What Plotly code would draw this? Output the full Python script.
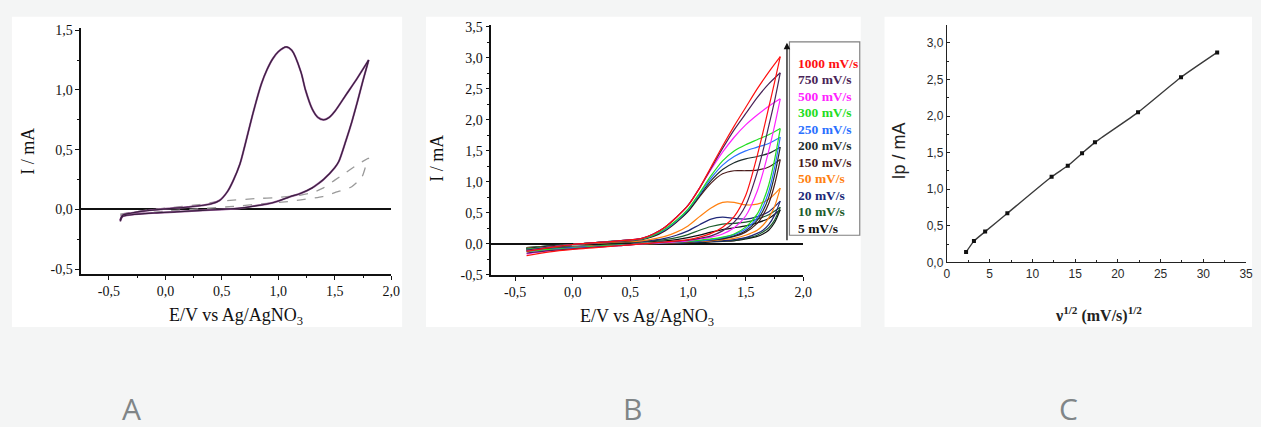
import plotly.graph_objects as go

W, H = 1261, 427
def px(x):
    return x / W
def py(y):
    return 1 - y / H

SERIF = "Liberation Serif"
SANS = "Liberation Sans"
BG = "#f4f5f5"

# ---------------- Panel A data ----------------
A_fwd_E = [-0.40, -0.38, -0.30, -0.20, 0.00, 0.20, 0.40, 0.48, 0.55, 0.60, 0.66, 0.70, 0.78, 0.85, 0.90,
           0.95, 1.00, 1.07, 1.12, 1.20, 1.24, 1.30, 1.35, 1.40, 1.45, 1.50, 1.60, 1.70, 1.80]
A_fwd_I = [-0.09, -0.05, -0.03, -0.015, 0.005, 0.02, 0.045, 0.075, 0.15, 0.24, 0.38, 0.52, 0.82, 1.05, 1.17,
           1.26, 1.32, 1.36, 1.33, 1.15, 1.00, 0.84, 0.77, 0.75, 0.77, 0.82, 0.96, 1.10, 1.25]
A_rev_E = [1.80, 1.75, 1.70, 1.65, 1.60, 1.535, 1.50, 1.40, 1.36, 1.30, 1.20, 1.10, 1.00, 0.90, 0.80,
           0.66, 0.50, 0.30, 0.10, -0.10, -0.30, -0.38, -0.40]
A_rev_I = [1.25, 1.08, 0.90, 0.73, 0.58, 0.40, 0.35, 0.25, 0.22, 0.18, 0.135, 0.105, 0.07, 0.045, 0.03,
           0.01, 0.0, -0.01, -0.02, -0.03, -0.045, -0.06, -0.10]
A_blank_up_E = [-0.40, -0.20, 0.00, 0.30, 0.50, 0.80, 1.00, 1.20, 1.30, 1.40, 1.50, 1.60, 1.70, 1.80]
A_blank_up_I = [-0.04, -0.01, 0.01, 0.04, 0.07, 0.09, 0.10, 0.12, 0.14, 0.18, 0.245, 0.31, 0.375, 0.43]
A_blank_dn_E = [1.80, 1.77, 1.74, 1.65, 1.50, 1.39, 1.20, 1.10, 0.90, 0.60, 0.30, 0.00, -0.40]
A_blank_dn_I = [0.43, 0.35, 0.27, 0.19, 0.14, 0.107, 0.08, 0.067, 0.05, 0.025, 0.005, -0.015, -0.05]

# ---------------- Panel B data ----------------
B_rates = ["1000 mV/s", "750 mV/s", "500 mV/s", "300 mV/s", "250 mV/s", "200 mV/s",
           "150 mV/s", "50 mV/s", "20 mV/s", "10 mV/s", "5 mV/s"]
B_colors = ["#ff1010", "#4a2458", "#ff22ff", "#22dd22", "#2a70ff", "#1e2e2e",
            "#4a1c1c", "#ff8010", "#202878", "#1c5c2c", "#101010"]
B_E_fwd = [-0.4, -0.2, 0.0, 0.2, 0.4, 0.6, 0.7, 0.8, 0.9, 1.0, 1.1, 1.2, 1.3, 1.4, 1.5, 1.6, 1.7, 1.8]
B_E_rev = [1.8, 1.75, 1.7, 1.65, 1.6, 1.5, 1.4, 1.3, 1.2, 1.1, 1.0, 0.8, 0.6, 0.4, 0.2, 0.0, -0.2, -0.4]
B_I_fwd_1000 = [-0.12, -0.06, -0.01, 0.02, 0.05, 0.09, 0.16, 0.27, 0.43, 0.62, 0.90, 1.24, 1.58, 1.90, 2.20, 2.50, 2.77, 3.02]
B_I_fwd_750 = [-0.10, -0.05, -0.01, 0.02, 0.05, 0.09, 0.16, 0.27, 0.43, 0.62, 0.90, 1.22, 1.54, 1.84, 2.10, 2.36, 2.58, 2.76]
B_I_fwd_500 = [-0.11, -0.05, -0.01, 0.02, 0.05, 0.09, 0.16, 0.27, 0.43, 0.62, 0.90, 1.20, 1.48, 1.72, 1.92, 2.08, 2.22, 2.34]
B_I_fwd_300 = [-0.09, -0.05, -0.01, 0.02, 0.05, 0.08, 0.14, 0.24, 0.38, 0.56, 0.82, 1.10, 1.34, 1.50, 1.60, 1.68, 1.76, 1.86]
B_I_fwd_250 = [-0.09, -0.05, -0.01, 0.02, 0.05, 0.08, 0.14, 0.23, 0.37, 0.55, 0.80, 1.06, 1.27, 1.41, 1.50, 1.56, 1.62, 1.72]
B_I_fwd_200 = [-0.08, -0.04, -0.01, 0.02, 0.05, 0.08, 0.13, 0.22, 0.36, 0.53, 0.78, 1.02, 1.20, 1.31, 1.37, 1.41, 1.46, 1.56]
B_I_fwd_150 = [-0.08, -0.04, -0.01, 0.02, 0.04, 0.07, 0.12, 0.21, 0.35, 0.52, 0.76, 0.98, 1.13, 1.18, 1.18, 1.19, 1.24, 1.36]
B_I_fwd_50 = [-0.07, -0.04, -0.01, 0.01, 0.03, 0.05, 0.08, 0.12, 0.19, 0.29, 0.44, 0.58, 0.67, 0.67, 0.63, 0.64, 0.72, 0.90]
B_I_fwd_20 = [-0.07, -0.04, -0.01, 0.01, 0.03, 0.04, 0.06, 0.09, 0.14, 0.21, 0.31, 0.40, 0.43, 0.41, 0.40, 0.44, 0.52, 0.69]
B_I_fwd_10 = [-0.06, -0.03, -0.01, 0.01, 0.02, 0.03, 0.05, 0.07, 0.10, 0.15, 0.22, 0.28, 0.32, 0.33, 0.35, 0.40, 0.47, 0.59]
B_I_fwd_5 = [-0.06, -0.03, -0.01, 0.01, 0.02, 0.03, 0.04, 0.05, 0.07, 0.10, 0.14, 0.19, 0.23, 0.26, 0.29, 0.34, 0.41, 0.55]
B_I_rev_1000 = [3.02, 2.60, 2.20, 1.80, 1.42, 0.78, 0.44, 0.27, 0.17, 0.11, 0.07, 0.03, 0.0, -0.03, -0.06, -0.09, -0.13, -0.19]
B_I_rev_750 = [2.76, 2.30, 1.90, 1.50, 1.15, 0.62, 0.35, 0.21, 0.13, 0.09, 0.06, 0.03, 0.0, -0.03, -0.05, -0.08, -0.11, -0.15]
B_I_rev_500 = [2.34, 1.90, 1.50, 1.15, 0.85, 0.45, 0.26, 0.16, 0.11, 0.08, 0.05, 0.02, 0.0, -0.03, -0.05, -0.08, -0.11, -0.16]
B_I_rev_300 = [1.86, 1.35, 0.95, 0.68, 0.48, 0.27, 0.16, 0.11, 0.08, 0.06, 0.04, 0.02, 0.0, -0.02, -0.04, -0.07, -0.09, -0.12]
B_I_rev_250 = [1.72, 1.22, 0.84, 0.60, 0.42, 0.24, 0.15, 0.10, 0.07, 0.05, 0.04, 0.02, 0.0, -0.02, -0.04, -0.06, -0.09, -0.12]
B_I_rev_200 = [1.56, 1.10, 0.75, 0.53, 0.38, 0.21, 0.13, 0.09, 0.07, 0.05, 0.04, 0.02, 0.0, -0.02, -0.04, -0.06, -0.08, -0.11]
B_I_rev_150 = [1.36, 0.95, 0.65, 0.46, 0.33, 0.19, 0.12, 0.08, 0.06, 0.05, 0.03, 0.01, 0.0, -0.02, -0.04, -0.06, -0.08, -0.11]
B_I_rev_50 = [0.90, 0.60, 0.42, 0.30, 0.22, 0.14, 0.09, 0.07, 0.05, 0.04, 0.03, 0.01, 0.0, -0.02, -0.03, -0.05, -0.07, -0.10]
B_I_rev_20 = [0.69, 0.46, 0.31, 0.22, 0.17, 0.10, 0.07, 0.05, 0.04, 0.03, 0.02, 0.01, 0.0, -0.02, -0.03, -0.05, -0.07, -0.09]
B_I_rev_10 = [0.59, 0.38, 0.26, 0.19, 0.14, 0.09, 0.06, 0.05, 0.04, 0.03, 0.02, 0.01, 0.0, -0.01, -0.03, -0.04, -0.06, -0.08]
B_I_rev_5 = [0.55, 0.34, 0.22, 0.16, 0.12, 0.08, 0.05, 0.04, 0.03, 0.02, 0.02, 0.01, 0.0, -0.01, -0.03, -0.04, -0.06, -0.08]
B_I_fwd = [B_I_fwd_1000, B_I_fwd_750, B_I_fwd_500, B_I_fwd_300, B_I_fwd_250, B_I_fwd_200,
           B_I_fwd_150, B_I_fwd_50, B_I_fwd_20, B_I_fwd_10, B_I_fwd_5]
B_I_rev = [B_I_rev_1000, B_I_rev_750, B_I_rev_500, B_I_rev_300, B_I_rev_250, B_I_rev_200,
           B_I_rev_150, B_I_rev_50, B_I_rev_20, B_I_rev_10, B_I_rev_5]

# ---------------- Panel C data ----------------
C_sqrt_v = [2.24, 3.16, 4.47, 7.07, 12.25, 14.14, 15.81, 17.32, 22.36, 27.39, 31.62]
C_Ip = [0.14, 0.29, 0.42, 0.67, 1.17, 1.32, 1.49, 1.64, 2.05, 2.53, 2.87]

# tick labels
AB_x_ticks = [-0.5, 0.0, 0.5, 1.0, 1.5, 2.0]
AB_x_text = ["-0,5", "0,0", "0,5", "1,0", "1,5", "2,0"]
A_y_ticks = [-0.5, 0.0, 0.5, 1.0, 1.5]
A_y_text = ["-0,5", "0,0", "0,5", "1,0", "1,5"]
B_y_ticks = [-0.5, 0.0, 0.5, 1.0, 1.5, 2.0, 2.5, 3.0, 3.5]
B_y_text = ["-0,5", "0,0", "0,5", "1,0", "1,5", "2,0", "2,5", "3,0", "3,5"]
C_y_ticks = [0.0, 0.5, 1.0, 1.5, 2.0, 2.5, 3.0]
C_y_text = ["0,0", "0,5", "1,0", "1,5", "2,0", "2,5", "3,0"]
C_x_ticks = [0, 5, 10, 15, 20, 25, 30, 35]

fig = go.Figure()

# Panel A traces
fig.add_trace(go.Scatter(x=A_blank_up_E + A_blank_dn_E, y=A_blank_up_I + A_blank_dn_I, mode="lines",
                         line=dict(color="#9a9a9a", width=1.3, dash="dash", shape="spline", smoothing=0.6),
                         xaxis="x", yaxis="y", showlegend=False))
for col, w in (("#9a5a9a", 2.0), ("#3a2040", 1.2)):
    fig.add_trace(go.Scatter(x=A_fwd_E, y=A_fwd_I, mode="lines",
                             line=dict(color=col, width=w, shape="spline", smoothing=0.8),
                             xaxis="x", yaxis="y", showlegend=False))
    fig.add_trace(go.Scatter(x=A_rev_E, y=A_rev_I, mode="lines",
                             line=dict(color=col, width=w, shape="spline", smoothing=0.8),
                             xaxis="x", yaxis="y", showlegend=False))

# Panel B traces (draw small ones first)
for i in reversed(range(len(B_rates))):
    fig.add_trace(go.Scatter(x=B_E_fwd, y=B_I_fwd[i], mode="lines",
                             line=dict(color=B_colors[i], width=1.2, shape="spline", smoothing=0.8),
                             xaxis="x2", yaxis="y2", showlegend=False))
    fig.add_trace(go.Scatter(x=B_E_rev, y=B_I_rev[i], mode="lines",
                             line=dict(color=B_colors[i], width=1.2, shape="spline", smoothing=0.8),
                             xaxis="x2", yaxis="y2", showlegend=False))

# Panel C
fig.add_trace(go.Scatter(x=C_sqrt_v, y=C_Ip, mode="lines+markers",
                         line=dict(color="#3a3a3a", width=1.4, shape="spline", smoothing=0.5),
                         marker=dict(symbol="square", size=4, color="#111111"),
                         xaxis="x3", yaxis="y3", showlegend=False))

ab_axis = dict(showline=True, linecolor="#111111", linewidth=1.5, ticks="outside", ticklen=4,
               tickwidth=1.2, tickcolor="#111111", showgrid=False,
               tickfont=dict(family=SERIF, size=14, color="#111111"))
minor_ab = dict(ticks="outside", ticklen=2.5, tickwidth=1, tickcolor="#111111", showgrid=False)

fig.update_layout(
    width=W, height=H, margin=dict(l=0, r=0, t=0, b=0),
    paper_bgcolor=BG, plot_bgcolor="rgba(0,0,0,0)",
    xaxis=dict(domain=[px(79), px(392)], range=[-0.745, 2.0], anchor="y", tickvals=AB_x_ticks,
               ticktext=AB_x_text, zeroline=False, minor=dict(dtick=0.25, **minor_ab), **ab_axis),
    yaxis=dict(domain=[py(277), py(23)], range=[-0.54, 1.516], anchor="x", tickvals=A_y_ticks,
               ticktext=A_y_text, zeroline=True, zerolinecolor="#111111", zerolinewidth=1.6,
               minor=dict(dtick=0.25, **minor_ab), **ab_axis),
    xaxis2=dict(domain=[px(493), px(808)], range=[-0.706, 2.0], anchor="y2", tickvals=AB_x_ticks,
                ticktext=AB_x_text, zeroline=False, minor=dict(dtick=0.25, **minor_ab), **ab_axis),
    yaxis2=dict(domain=[py(278), py(20)], range=[-0.5, 3.525], anchor="x2", tickvals=B_y_ticks,
                ticktext=B_y_text, zeroline=True, zerolinecolor="#111111", zerolinewidth=1.6,
                minor=dict(dtick=0.25, **minor_ab), **ab_axis),
    xaxis3=dict(domain=[px(953), px(1255)], range=[0, 35], anchor="y3", tickvals=C_x_ticks,
                showline=True, linecolor="#222222", linewidth=1.3, ticks="inside", ticklen=3,
                tickcolor="#222222", showgrid=False, zeroline=False,
                tickfont=dict(family=SANS, size=12, color="#2a2a2a"),
                minor=dict(dtick=2.5, ticks="inside", ticklen=2, tickcolor="#222222", showgrid=False)),
    yaxis3=dict(domain=[py(265), py(20)], range=[0, 3.24], anchor="x3", tickvals=C_y_ticks,
                ticktext=C_y_text, showline=True, linecolor="#222222", linewidth=1.3, ticks="inside",
                ticklen=3, tickcolor="#222222", showgrid=False, zeroline=False,
                tickfont=dict(family=SANS, size=12, color="#2a2a2a"),
                minor=dict(dtick=0.25, ticks="inside", ticklen=2, tickcolor="#222222", showgrid=False)),
)

shapes = []
for (x0, x1) in ((9, 403), (427, 866), (890, 1261)):
    shapes.append(dict(type="rect", xref="paper", yref="paper", x0=px(x0), x1=px(x1),
                       y0=py(332), y1=py(11), fillcolor="white", line=dict(width=0), layer="below"))
# legend box in B
shapes.append(dict(type="rect", xref="paper", yref="paper", x0=px(794), x1=px(865),
                   y0=py(237), y1=py(37), fillcolor="rgba(0,0,0,0)",
                   line=dict(color="#808080", width=1.2)))
fig.update_layout(shapes=shapes)


def text_ann(x, y, text, family, size, color, angle=0, xanchor="center"):
    return dict(x=px(x), y=py(y), xref="paper", yref="paper", text=text, textangle=angle,
                xanchor=xanchor, yanchor="middle", showarrow=False,
                font=dict(family=family, size=size, color=color))


ann = []
# axis titles
ann.append(text_ann(25, 150, "I / mA", SERIF, 18, "#111111", angle=-90))
ann.append(text_ann(235, 321, "E/V vs Ag/AgNO<sub>3</sub>", SERIF, 18, "#111111"))
ann.append(text_ann(438, 157, "I / mA", SERIF, 18, "#111111", angle=-90))
ann.append(text_ann(650, 322, "E/V vs Ag/AgNO<sub>3</sub>", SERIF, 18, "#111111"))
ann.append(text_ann(905, 150, "Ip / mA", SANS, 18, "#222222", angle=-90))
ann.append(text_ann(1106, 319, "<b>\u03bd<sup>1/2</sup> (mV/s)<sup>1/2</sup></b>", SERIF, 16, "#222222"))
# legend entries
for i, (name, col) in enumerate(zip(B_rates, B_colors)):
    ann.append(text_ann(801, 59.3 + i * 17.07, "<b>" + name + "</b>", SERIF, 13.5, col, xanchor="left"))
# arrow in legend
ann.append(dict(x=px(791.5), y=py(38), xref="paper", yref="paper", ax=0, ay=199, axref="pixel",
                ayref="pixel", text="", showarrow=True, arrowhead=2, arrowsize=1, arrowwidth=1.3,
                arrowcolor="#111111"))
# panel letters
for lab, x in (("A", 130), ("B", 636), ("C", 1076)):
    ann.append(text_ann(x, 416, lab, "Open Sans", 30, "#808587"))
fig.update_layout(annotations=ann)

fig.write_html("out.html", config={"displayModeBar": False},
               post_script="document.body.style.margin='0';document.body.style.padding='0';"
                           "document.body.style.overflow='hidden';"
                           "document.body.style.background='" + BG + "';")
